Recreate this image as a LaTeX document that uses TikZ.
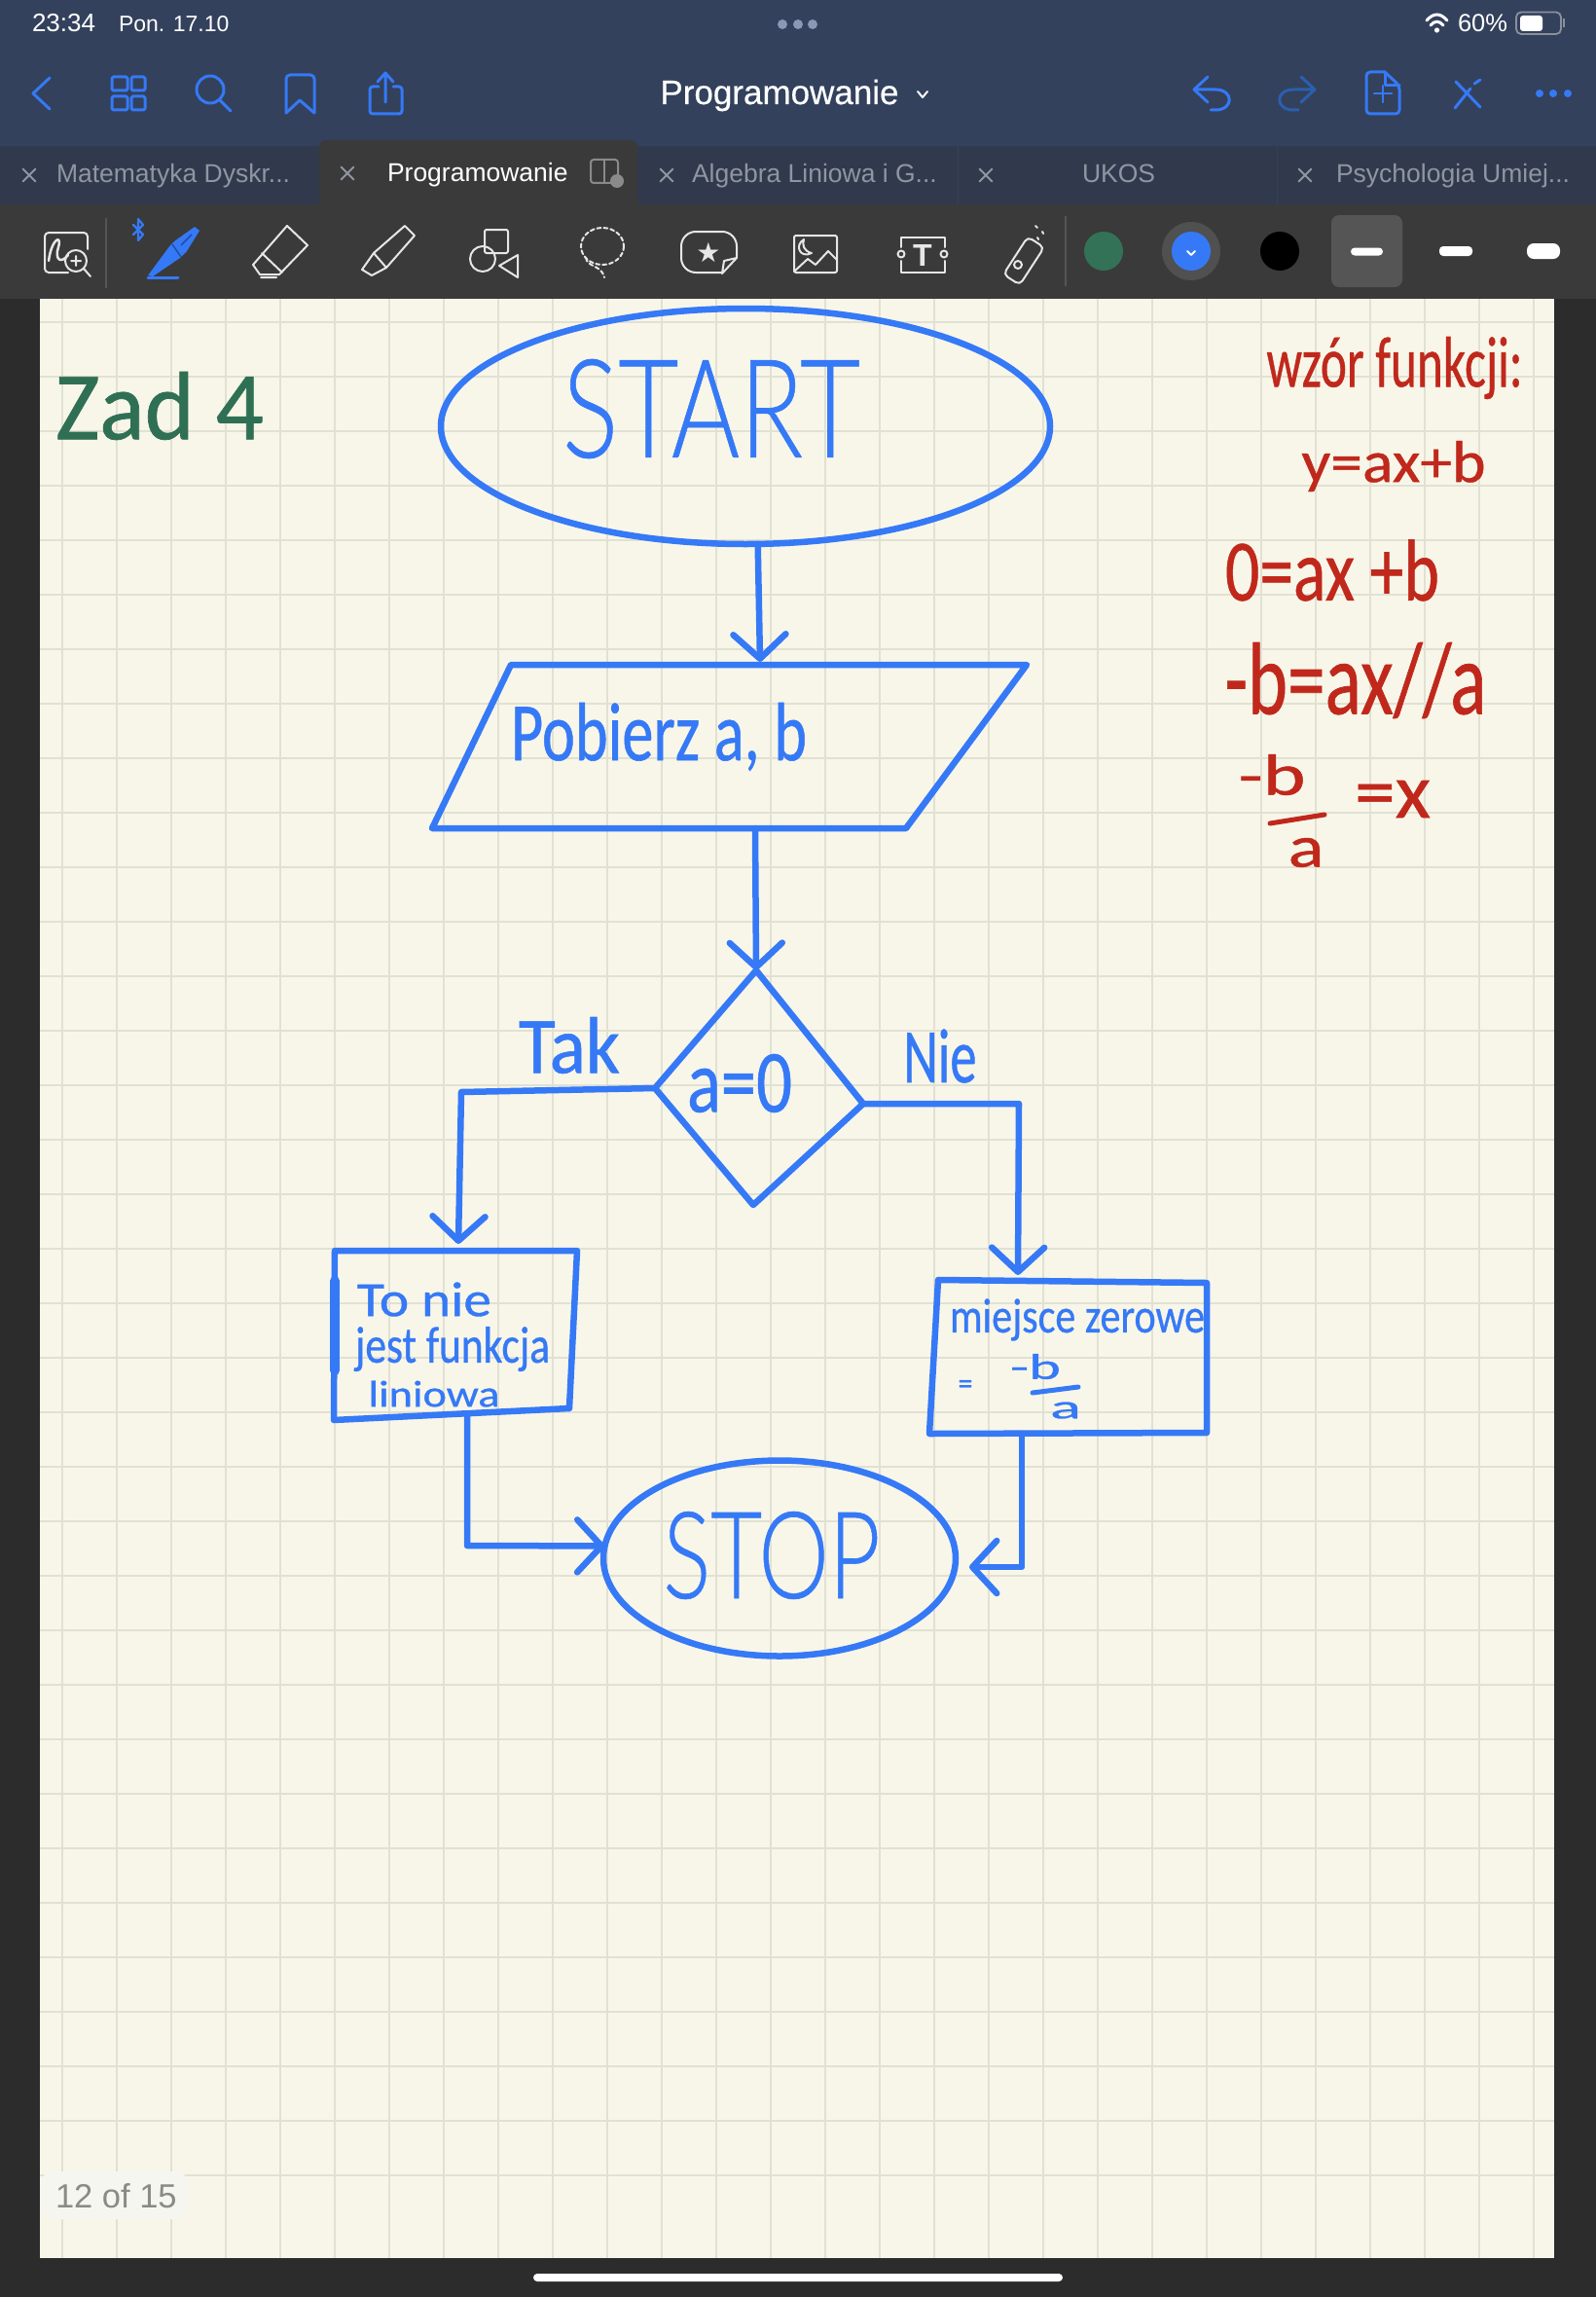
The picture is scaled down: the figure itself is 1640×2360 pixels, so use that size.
\documentclass[tikz,border=0pt]{standalone}
\usepackage{fontspec}
\usepackage{graphicx}
\usetikzlibrary{arrows.meta,shapes.geometric,calc}
\setmainfont{Liberation Sans}
\newfontfamily\hwthin[FakeBold=0.5]{Lato Light}
\newfontfamily\hwreg[FakeBold=0.7]{Carlito}
\newfontfamily\titlefont[FakeBold=0.5]{Liberation Sans}
\newfontfamily\symfont{DejaVu Sans}
\definecolor{barblue}{HTML}{33415C}
\definecolor{tabdark}{HTML}{313A4C}
\definecolor{toolgrey}{HTML}{3A3A3A}
\definecolor{sidedark}{HTML}{2C2C2C}
\definecolor{paper}{HTML}{F8F6E9}
\definecolor{gridc}{HTML}{E1E1D3}
\definecolor{inkblue}{HTML}{3579F6}
\definecolor{inkred}{HTML}{C0281C}
\definecolor{inkgreen}{HTML}{2F7055}
\definecolor{tabtext}{HTML}{8F95A2}
\definecolor{iconw}{HTML}{E6E6E6}
\definecolor{dimblue}{HTML}{2B5FAE}
\definecolor{dotc}{HTML}{8A97B5}
\definecolor{battc}{HTML}{8A8F9C}
\definecolor{splitc}{HTML}{8A8A8A}
\definecolor{selgrey}{HTML}{555555}
\definecolor{pendark}{HTML}{1F4FA8}
\definecolor{pillc}{HTML}{F6F6F0}
\definecolor{pilltext}{HTML}{8A8C84}
\definecolor{swgreen}{HTML}{337256}
\definecolor{halo}{HTML}{505050}
\newcommand{\fs}[1]{\fontsize{#1}{#1}\selectfont}
\tikzset{
  gridline/.style={gridc,line width=2pt},
  ink/.style={inkblue,line width=6.5pt,line cap=round,line join=round},
  flowarrow/.style={ink,-{Straight Barb[length=25pt,width=54pt,line width=6.5pt,round]}},
  hand/.style={inner sep=0pt,outer sep=0pt},
  handblue/.style={hand,text=inkblue},
  handred/.style={hand,text=inkred},
  ui/.style={inner sep=0pt,outer sep=0pt},
  tabt/.style={ui,anchor=base west,text=tabtext,font=\fs{26.5}},
  xmark/.style={tabtext,line width=1.8pt,line cap=round},
  topicon/.style={inkblue,line width=3pt,line cap=round,line join=round},
  toolicon/.style={iconw,line width=2pt,line cap=round,line join=round},
  penbar/.style={fill=white,rounded corners=4pt,draw=none}
}
\begin{document}
\begin{tikzpicture}[x=1pt,y=-1pt]
\useasboundingbox (0,0) rectangle (1640,2360);
% backgrounds
\fill[sidedark] (0,0) rectangle (1640,2360);
\fill[barblue] (0,0) rectangle (1640,150);
\fill[tabdark] (0,150) rectangle (1640,210);
\fill[toolgrey] (0,210) rectangle (1640,307);
\fill[toolgrey,rounded corners=7pt] (328,144) rectangle (655,230);
\foreach \x in {984,1312} \draw[barblue,line width=1pt] (\x,150) -- (\x,210);
\fill[paper] (41,307) rectangle (1597,2320);
\foreach \x in {64,120,...,1576} \draw[gridline] (\x,307) -- (\x,2320);
\foreach \y in {331,387,...,2290} \draw[gridline] (41,\y) -- (1597,\y);
% status bar
\node[ui,anchor=base west,text=white,font=\fs{26}] (clock) at (33,33) {23:34};
\node[ui,anchor=base west,text=white,font=\fs{23}] (date) at (122,33) {Pon. 17.10};
\foreach \x in {804,820,835} \fill[dotc] (\x,25) circle[radius=5];
\node[ui,anchor=base west,text=white,font=\fs{25.5}] (batt) at (1498,33) {60\%};
\draw[white,line width=3pt,line cap=round] (1466,21) .. controls (1473,13) and (1480,13) .. (1487,21);
\draw[white,line width=3pt,line cap=round] (1470,26) .. controls (1474,21) and (1479,21) .. (1483,26);
\fill[white] (1476.5,31) circle[radius=2.6];
\draw[battc,line width=1.8pt,rounded corners=5pt] (1558,12.5) rectangle (1604,35);
\fill[white,rounded corners=3pt] (1562,16) rectangle (1585,32);
\fill[battc] (1606,19) rectangle (1608,28);
% top icons
\draw[topicon] (51,80) -- (34,96) -- (51,112);
\draw[topicon,rounded corners=1.5pt] (115,79) rectangle (131,93) (135,79) rectangle (149,93) (115,99) rectangle (131,113) (135,99) rectangle (149,113);
\draw[topicon] (216,92) circle[radius=14] (226,103) -- (237,114);
\draw[topicon,rounded corners=4pt] (294,116) -- (294,77) -- (323,77) -- (323,116);
\draw[topicon] (294,116) -- (308,103) -- (323,116);
\draw[topicon,rounded corners=3pt] (389,89) -- (380,89) -- (380,117) -- (413,117) -- (413,89) -- (404,89);
\draw[topicon] (396,105) -- (396,75) (388,84) -- (396,75) -- (404,84);
\node[ui,anchor=base,text=white,font=\titlefont\fs{35}] (title) at (801,107) {Programowanie};
\draw[white,line width=2pt,line cap=round,line join=round] (943,94) -- (948,100) -- (953,94);
\draw[topicon] (1241,79) -- (1227,92) -- (1241,105) (1227,92) -- (1249,92) .. controls (1268,92) and (1268,113) .. (1249,113) -- (1244,113);
\draw[topicon,dimblue] (1337,79) -- (1351,92) -- (1337,105) (1351,92) -- (1329,92) .. controls (1310,92) and (1310,113) .. (1329,113) -- (1334,113);
\draw[topicon,rounded corners=4pt] (1423,74) -- (1404,74) -- (1404,117) -- (1438,117) -- (1438,88) -- (1423,74);
\draw[topicon] (1423,74) -- (1423,88) -- (1438,88);
\draw[topicon,line width=2.5pt] (1421,88) -- (1421,105) (1412,96) -- (1430,96);
\draw[topicon] (1496,84) -- (1521,110);
\draw[topicon] (1495,111) -- (1511,91) (1515,86) -- (1521,82);
\foreach \x in {1582,1596,1611} \fill[inkblue] (\x,96) circle[radius=4];
% tabs
\foreach \x/\yy in {30/180,357/178,685/180,1013/180,1341/180} {
 \draw[xmark] (\x-6.5,\yy-6.5) -- (\x+6.5,\yy+6.5) (\x-6.5,\yy+6.5) -- (\x+6.5,\yy-6.5);
}
\node[tabt] (tab1) at (58,188) {Matematyka Dyskr...};
\node[tabt,text=white] (tab2) at (398,187) {Programowanie};
\node[tabt] (tab3) at (711,188) {Algebra Liniowa i G...};
\node[tabt] (tab4) at (1112,188) {UKOS};
\node[tabt] (tab5) at (1373,188) {Psychologia Umiej...};
\draw[splitc,line width=2pt,rounded corners=3pt] (635,188) -- (607,188) -- (607,164) -- (635,164) -- (635,180);
\draw[splitc,line width=2pt] (621,164) -- (621,188);
\fill[splitc] (634,186) circle[radius=7];
% toolbar
\draw[selgrey,line width=1.5pt] (109,224) -- (109,296) (1095,222) -- (1095,294);
\draw[toolicon,rounded corners=4pt] (70,280) -- (46,280) -- (46,239) -- (90,239) -- (90,256);
\draw[toolicon,line width=2.5pt] (50,268) .. controls (53,245) and (64,240) .. (60,254) .. controls (56,266) and (62,272) .. (70,262);
\draw[toolicon] (78,268) circle[radius=11] (86,276) -- (93,284) (73,268) -- (83,268) (78,263) -- (78,273);
\fill[inkblue] (152,283) -- (175,252) -- (179,248) -- (200,233) -- (205,237) -- (192,258) -- (185,265) -- (157,284) -- cycle;
\draw[pendark,line width=1.5pt] (177,251) -- (186,264) (186,252) -- (197,241);
\draw[inkblue,line width=3pt,line cap=round] (152,285) -- (183,285);
\draw[inkblue,line width=2.2pt,line join=round,line cap=round] (137,231) -- (147,241) -- (142,247) -- (142,225) -- (147,231) -- (137,241);
\draw[toolicon] (295,232) -- (316,252) -- (287,282) -- (267,282) -- (260,272) -- cycle (269,260) -- (290,280) (268,285) -- (284,285);
\draw[toolicon] (416,232) -- (426,242) -- (397,275) -- (382,283) -- (372,277) -- (384,260) -- cycle (384,260) -- (397,275);
\draw[toolicon,rounded corners=2pt] (498,236) rectangle (522,260);
\draw[toolicon] (496,266) circle[radius=13];
\draw[toolicon] (532,262) -- (513,273) -- (532,285) -- cycle;
\draw[toolicon,dash pattern=on 4pt off 3pt] (619,253) circle[x radius=22,y radius=19];
\draw[toolicon,dash pattern=on 4pt off 3pt] (602,265) .. controls (604,275) and (618,272) .. (621,285);
\draw[toolicon,rounded corners=15pt] (742,280) -- (700,280) -- (700,238) -- (757,238) -- (757,265);
\draw[toolicon] (757,265) -- (742,281) -- (744,268) -- (757,265);
\node[ui,text=iconw,font=\fs{28}] (star) at (728,259) {\symfont ★};
\draw[toolicon,rounded corners=2pt] (816,242) rectangle (860,280);
\draw[toolicon] (816,279) -- (830,266) -- (838,272) -- (851,258) -- (860,267);
\draw[toolicon] (826,246) .. controls (816,252) and (822,266) .. (834,260) .. controls (826,258) and (824,252) .. (826,246);
\draw[toolicon] (926,254) -- (926,244) -- (971,244) -- (971,254) (926,268) -- (926,280) -- (971,280) -- (971,268);
\draw[toolicon] (926,261) circle[radius=3.5] (970,261) circle[radius=3.5];
\node[ui,text=iconw,font=\bfseries\fs{32}] (tool) at (948,262) {T};
\draw[toolicon,rounded corners=5pt,rotate around={57:(1052,268)}] (1029,258) rectangle (1075,278);
\draw[toolicon] (1046,272) circle[radius=4];
\draw[toolicon] (1066,244) -- (1067,246) (1072,240) -- (1071,238) (1066,234) -- (1064,232);
% page counter
\fill[pillc,rounded corners=14pt] (41,2231) rectangle (194,2280);
\node[ui,anchor=base west,text=pilltext,font=\fs{34.5}] (count) at (57,2268) {12 of 15};
% flow shapes
\node[ellipse,ink,draw,fill=none,minimum width=626pt,minimum height=242pt,inner sep=0pt,outer sep=0pt] (start) at (766,438) {};
\node[handblue] (starttext) at (731,420) {\resizebox*{306pt}{102pt}{\hwthin START}};
\coordinate (pTL) at (525,683);
\coordinate (pTR) at (1055,683);
\coordinate (pBR) at (931,851);
\coordinate (pBL) at (444,851);
\coordinate (pIn) at (781,680);
\coordinate (pOut) at (776,851);
\draw[ink] (pTL) -- (pTR) -- (pBR) -- (pBL) -- cycle;
\node[handblue] (ptext) at (677,757) {\resizebox*{304pt}{70pt}{\hwreg Pobierz a, b}};
\coordinate (dT) at (777,997);
\coordinate (dR) at (887,1134);
\coordinate (dB) at (774,1238);
\coordinate (dL) at (673,1118);
\draw[ink] (dT) -- (dR) -- (dB) -- (dL) -- cycle;
\node[handblue] (dtext) at (760,1113) {\resizebox*{108pt}{60pt}{\hwreg a=0}};
\node[handblue] (tak) at (585,1074) {\resizebox*{104pt}{58pt}{\hwreg Tak}};
\node[handblue] (nie) at (966,1085) {\resizebox*{75pt}{55pt}{\hwreg Nie}};
% left box
\coordinate (aTL) at (344,1285);
\coordinate (aTR) at (593,1285);
\coordinate (aBR) at (585,1447);
\coordinate (aBL) at (343,1459);
\coordinate (aIn) at (471,1278);
\coordinate (aOut) at (480,1453);
\draw[ink] (aTL) -- (aTR) -- (aBR) -- (aBL) -- cycle;
\draw[ink,line width=10pt] (344,1316) -- (344,1408);
\node[handblue] (a1) at (436,1335) {\resizebox*{138pt}{35pt}{\hwreg To nie}};
\node[handblue] (a2) at (465,1386) {\resizebox*{200pt}{46pt}{\hwreg jest funkcja}};
\node[handblue] (a3) at (446,1432) {\resizebox*{135pt}{27pt}{\hwreg liniowa}};
% right box
\coordinate (bTL) at (964,1315);
\coordinate (bTR) at (1240,1318);
\coordinate (bBR) at (1240,1472);
\coordinate (bBL) at (955,1473);
\coordinate (bIn) at (1046,1310);
\coordinate (bOut) at (1050,1473);
\draw[ink] (bTL) -- (bTR) -- (bBR) -- (bBL) -- cycle;
\node[handblue] (b1) at (1107,1356) {\resizebox*{262pt}{43pt}{\hwreg miejsce zerowe}};
\node[handblue] (b2) at (992,1425) {\resizebox*{15pt}{14pt}{\hwreg =}};
\node[handblue] (b3) at (1064,1404) {\resizebox*{52pt}{26pt}{\hwreg -b}};
\node[handblue] (b4) at (1095,1449) {\resizebox*{32pt}{17pt}{\hwreg a}};
\coordinate (bf1) at (1061,1431);
\coordinate (bf2) at (1108,1425);
\draw[ink,line width=5pt] (bf1) -- (bf2);
% stop
\node[ellipse,ink,draw,fill=none,minimum width=362pt,minimum height=201pt,inner sep=0pt,outer sep=0pt] (stop) at (801,1601) {};
\node[handblue] (stoptext) at (793,1598) {\resizebox*{223pt}{90pt}{\hwthin STOP}};
\coordinate (sR) at (996,1610);
% connectors
\draw[flowarrow] (start.-84) -- (pIn);
\draw[flowarrow] (pOut) -- (dT);
\coordinate (k1) at (474,1122);
\coordinate (k2) at (1047,1134);
\draw[flowarrow] (dL) -- (k1) -- (aIn);
\draw[flowarrow] (dR) -- (k2) -- (bIn);
\coordinate (k3) at (480,1588);
\coordinate (k4) at (1050,1610);
\draw[flowarrow] (aOut) -- (k3) -- (stop.176);
\draw[flowarrow] (bOut) -- (k4) -- (sR);
% green and red notes
\node[hand,text=inkgreen] (zad) at (164,417) {\resizebox*{214pt}{70pt}{\hwreg Zad 4}};
\node[handred] (r1) at (1433,378) {\resizebox*{263pt}{64pt}{\hwreg wzór funkcji:}};
\node[handred] (r2) at (1432,479) {\resizebox*{189pt}{52pt}{\hwreg y=ax+b}};
\node[handred] (r3) at (1369,586) {\resizebox*{220pt}{63pt}{\hwreg 0=ax +b}};
\node[handred] (r4) at (1393,699) {\resizebox*{269pt}{78pt}{\hwreg -b=ax//a}};
\node[handred] (r5) at (1307,796) {\resizebox*{69pt}{42pt}{\hwreg -b}};
\coordinate (rf1) at (1305,846);
\coordinate (rf2) at (1361,837);
\draw[inkred,line width=5pt,line cap=round] (rf1) -- (rf2);
\node[handred] (r6) at (1342,876) {\resizebox*{37pt}{30pt}{\hwreg a}};
\node[handred] (r7) at (1431,821) {\resizebox*{78pt}{38pt}{\hwreg =x}};
% color swatches
\fill[swgreen] (1134,258) circle[radius=20];
\fill[halo] (1224,258) circle[radius=30];
\fill[inkblue] (1224,258) circle[radius=20];
\draw[white,line width=2pt,line cap=round,line join=round] (1220,258) -- (1224,262) -- (1228,258);
\fill[black] (1315,258) circle[radius=20];
\fill[selgrey,rounded corners=8pt] (1368,221) rectangle (1441,295);
\fill[penbar] (1388,254.5) rectangle (1421,262.5);
\fill[penbar] (1479,253) rectangle (1513,263);
\fill[penbar,rounded corners=7pt] (1569,250) rectangle (1603,266);
% home bar
\fill[white,rounded corners=4pt] (548,2336) rectangle (1092,2344);
\end{tikzpicture}
\end{document}
